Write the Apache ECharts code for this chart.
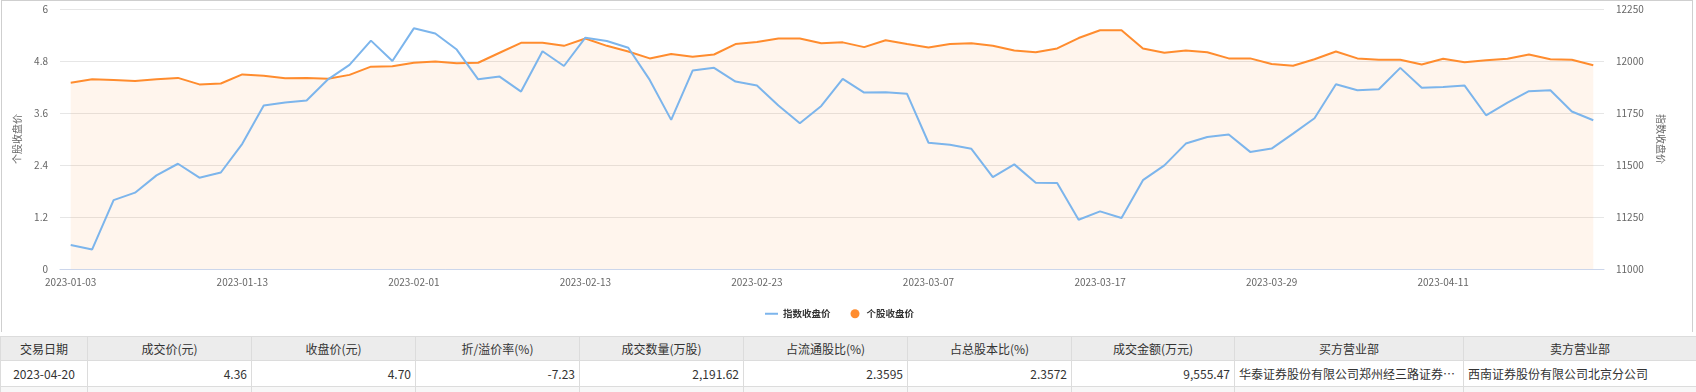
<!DOCTYPE html>
<html>
<head>
<meta charset="utf-8">
<script src="https://cdn.jsdelivr.net/npm/echarts@6/dist/echarts.min.js"></script>
<style>
  html, body { margin: 0; padding: 0; background: #fff; width: 1696px; height: 392px; overflow: hidden; font-family: "Noto Sans CJK SC", "Noto Sans", sans-serif; }
  #frame { position: absolute; left: 1px; top: 0; width: 1692px; height: 332px; border: 1px solid #cfcfcf; border-bottom: none; box-sizing: border-box; }
  #chart { position: absolute; left: 0; top: 0; width: 1696px; height: 332px; }
  table { position: absolute; left: 0; top: 336px; width: 1696px; border-collapse: collapse; table-layout: fixed; font-size: 12px; color: #333; }
  th, td { border: 1px solid #dcdcdc; white-space: nowrap; overflow: hidden; text-overflow: ellipsis; padding: 0 4px; }
  th { background: #ececec; height: 23px; font-weight: normal; text-align: center; }
  td { height: 25px; text-align: right; }
  td.c { text-align: center; }
  td.l { text-align: left; }
  tr.next td { background: #f7f7f7; }
</style>
</head>
<body>
<div id="frame"></div>
<div id="chart"></div>
<table id="tbl"></table>
<script>
const dates = [
  '2023-01-03','2023-01-04','2023-01-05','2023-01-06','2023-01-09','2023-01-10','2023-01-11','2023-01-12','2023-01-13',
  '2023-01-16','2023-01-17','2023-01-18','2023-01-19','2023-01-20','2023-01-30','2023-01-31',
  '2023-02-01','2023-02-02','2023-02-03','2023-02-06','2023-02-07','2023-02-08','2023-02-09','2023-02-10',
  '2023-02-13','2023-02-14','2023-02-15','2023-02-16','2023-02-17','2023-02-20','2023-02-21','2023-02-22',
  '2023-02-23','2023-02-24','2023-02-27','2023-02-28','2023-03-01','2023-03-02','2023-03-03','2023-03-06',
  '2023-03-07','2023-03-08','2023-03-09','2023-03-10','2023-03-13','2023-03-14','2023-03-15','2023-03-16',
  '2023-03-17','2023-03-20','2023-03-21','2023-03-22','2023-03-23','2023-03-24','2023-03-27','2023-03-28',
  '2023-03-29','2023-03-30','2023-03-31','2023-04-03','2023-04-04','2023-04-06','2023-04-07','2023-04-10',
  '2023-04-11','2023-04-12','2023-04-13','2023-04-14','2023-04-17','2023-04-18','2023-04-19','2023-04-20'
];
const indexClose = [
  11115,11094,11331,11367,11450,11506,11439,11464,11602,11786,11800,11810,11912,11981,12098,12000,
  12157,12132,12055,11912,11925,11853,12047,11976,12112,12096,12064,11909,11717,11954,11967,11901,
  11882,11786,11701,11784,11914,11848,11850,11842,11607,11597,11578,11442,11503,11415,11413,11237,
  11277,11245,11427,11498,11603,11635,11647,11563,11579,11651,11725,11888,11859,11864,11967,11871,
  11875,11882,11739,11800,11855,11859,11757,11715
];
const stockClose = [
  4.30,4.38,4.36,4.34,4.38,4.41,4.26,4.28,4.49,4.46,4.40,4.41,4.39,4.48,4.67,4.68,
  4.76,4.79,4.75,4.76,4.99,5.22,5.22,5.15,5.32,5.15,5.02,4.86,4.96,4.90,4.95,5.19,
  5.24,5.32,5.32,5.21,5.23,5.12,5.28,5.19,5.11,5.19,5.21,5.15,5.04,5.00,5.09,5.33,
  5.51,5.51,5.09,4.99,5.04,5.00,4.86,4.86,4.73,4.69,4.84,5.02,4.86,4.83,4.83,4.72,
  4.85,4.77,4.82,4.85,4.95,4.84,4.83,4.70
];
const seriesNames = ['指数收盘价', '个股收盘价'];
const leftAxisName = '个股收盘价';
const rightAxisName = '指数收盘价';

const tableHeaders = ['交易日期','成交价(元)','收盘价(元)','折/溢价率(%)','成交数量(万股)','占流通股比(%)','占总股本比(%)','成交金额(万元)','买方营业部','卖方营业部'];
const tableRow = ['2023-04-20','4.36','4.70','-7.23','2,191.62','2.3595','2.3572','9,555.47','华泰证券股份有限公司郑州经三路证券营业部','西南证券股份有限公司北京分公司'];
const colWidths = [87,164,164,164,164,164,164,163,229,233];

// table
(function () {
  const t = document.getElementById('tbl');
  let html = '<colgroup>' + colWidths.map(w => '<col style="width:' + w + 'px">').join('') + '</colgroup>';
  html += '<tr>' + tableHeaders.map(h => '<th>' + h + '</th>').join('') + '</tr>';
  html += '<tr>' + tableRow.map((v, i) => {
    const cls = i === 0 ? 'c' : (i >= 8 ? 'l' : '');
    return '<td class="' + cls + '">' + v + '</td>';
  }).join('') + '</tr>';
  html += '<tr class="next">' + tableRow.map(() => '<td></td>').join('') + '</tr>';
  t.innerHTML = html;
})();

const chart = echarts.init(document.getElementById('chart'), null, { renderer: 'canvas' });
const labelFont = { fontSize: 10, color: '#666', fontFamily: '"Noto Sans CJK SC", sans-serif' };
chart.setOption({
  animation: false,
  grid: { left: 60, right: 92, top: 9, height: 260 },
  legend: {
    left: 760, top: 304,
    itemWidth: 13, itemHeight: 9, itemGap: 20,
    symbolKeepAspect: true,
    textStyle: { fontSize: 9.5, color: '#333', fontWeight: 'bold', fontFamily: '"Noto Sans CJK SC", sans-serif' },
    data: [
      { name: seriesNames[0], icon: 'path://M0,0 L13,0 L13,2 L0,2 Z' },
      { name: seriesNames[1], icon: 'circle' }
    ]
  },
  xAxis: {
    type: 'category',
    data: dates,
    boundaryGap: true,
    axisLine: { lineStyle: { color: '#ccd6eb' } },
    axisTick: { alignWithLabel: true, interval: 7, length: 7, lineStyle: { color: '#ccd6eb' } },
    axisLabel: Object.assign({ interval: 7, margin: 8 }, labelFont)
  },
  yAxis: [
    {
      type: 'value', min: 0, max: 6, interval: 1.2,
      name: leftAxisName, nameLocation: 'middle', nameGap: 38,
      nameTextStyle: labelFont,
      axisLine: { show: false }, axisTick: { show: false },
      axisLabel: Object.assign({ margin: 12 }, labelFont),
      splitLine: { lineStyle: { color: '#e6e6e6' } }
    },
    {
      type: 'value', min: 11000, max: 12250, interval: 250,
      name: rightAxisName, nameLocation: 'middle', nameGap: 52, nameRotate: -90,
      nameTextStyle: labelFont,
      axisLine: { show: false }, axisTick: { show: false },
      axisLabel: Object.assign({ margin: 12, formatter: v => String(v) }, labelFont),
      splitLine: { show: false }
    }
  ],
  series: [
    {
      name: seriesNames[0], type: 'line', yAxisIndex: 1, data: indexClose,
      symbol: 'none', showSymbol: false,
      itemStyle: { color: '#7cb5ec' },
      lineStyle: { color: '#7cb5ec', width: 2 },
      z: 3
    },
    {
      name: seriesNames[1], type: 'line', yAxisIndex: 0, data: stockClose,
      symbol: 'none', showSymbol: false,
      itemStyle: { color: '#ff8c2e' },
      lineStyle: { color: '#ff8c2e', width: 2 },
      areaStyle: { color: 'rgba(255,140,46,0.12)' },
      z: 2
    }
  ]
});
</script>
</body>
</html>
